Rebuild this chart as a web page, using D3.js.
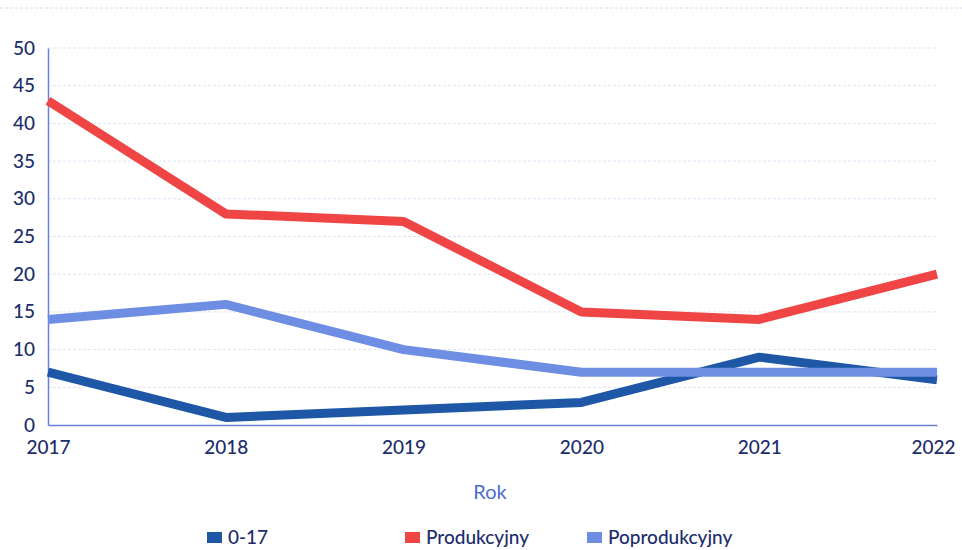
<!DOCTYPE html>
<html><head><meta charset="utf-8">
<script src="https://cdn.jsdelivr.net/npm/d3@7/dist/d3.min.js"></script>
<style>body{margin:0;background:#fff}svg{display:block}</style>
</head><body>
<svg id="c" width="962" height="550"></svg>
<script>
const years = [2017, 2018, 2019, 2020, 2021, 2022];
const seriesNames = ["0-17", "Produkcyjny", "Poprodukcyjny"];
const v017 = [7, 1, 2, 3, 9, 6];
const vProd = [43, 28, 27, 15, 14, 20];
const vPoprod = [14, 16, 10, 7, 7, 7];
const yTicks = [0, 5, 10, 15, 20, 25, 30, 35, 40, 45, 50];
const colors = ["#1d57a5", "#ef4545", "#6d8ee2"];

const svg = d3.select("#c");
const x = d3.scalePoint().domain(years).range([48, 937]);
const y = d3.scaleLinear().domain([0, 50]).range([425, 48]);
const font = "Lato, 'Open Sans', sans-serif";

// top faint dotted line
svg.append("line").attr("x1", 0).attr("x2", 962).attr("y1", 8).attr("y2", 8)
  .attr("stroke", "#d6daf0").attr("stroke-dasharray", "3,2");

// gridlines
svg.append("g").selectAll("line").data(yTicks.filter(d => d > 0)).join("line")
  .attr("x1", 48).attr("x2", 937).attr("y1", d => y(d)).attr("y2", d => y(d))
  .attr("stroke", "#dfe2f5").attr("stroke-dasharray", "3,2");

// y axis
const ya = svg.append("g").attr("transform", "translate(48,0)")
  .call(d3.axisLeft(y).tickValues(yTicks).tickSize(0).tickPadding(13));
ya.select(".domain").attr("stroke", "#6a80dc").attr("stroke-width", 1.5);
ya.selectAll("text").attr("font-family", font).attr("font-size", 19).attr("font-weight", 500).attr("fill", "#1c2d6b");

// x axis
const xa = svg.append("g").attr("transform", "translate(0,425)")
  .call(d3.axisBottom(x).tickSize(0).tickPadding(16).tickFormat(d3.format("d")));
xa.select(".domain").attr("stroke", "#6a80dc").attr("stroke-width", 1.5);
xa.selectAll("text").attr("font-family", font).attr("font-size", 19).attr("font-weight", 500).attr("fill", "#1c2d6b");
xa.selectAll(".tick:last-of-type text").attr("dx", -4);

// axis title
svg.append("text").attr("x", 490).attr("y", 499).attr("text-anchor", "middle")
  .attr("font-family", font).attr("font-size", 20).attr("fill", "#4a6dd2").text("Rok");

// lines
const data = [v017, vProd, vPoprod];
const line = d3.line().x((d, i) => x(years[i])).y(d => y(d));
svg.append("g").selectAll("path").data(data).join("path")
  .attr("d", line).attr("fill", "none")
  .attr("stroke", (d, i) => colors[i]).attr("stroke-width", 9)
  .attr("stroke-linejoin", "round");

// legend
const legX = [207, 405, 587];
const lg = svg.append("g").selectAll("g").data(seriesNames).join("g")
  .attr("transform", (d, i) => `translate(${legX[i]},538)`);
lg.append("rect").attr("x", 0).attr("y", -6).attr("width", 15).attr("height", 11)
  .attr("fill", (d, i) => colors[i]);
lg.append("text").attr("x", 21).attr("y", 6).attr("font-family", font).attr("font-size", 19)
  .attr("font-weight", 500).attr("fill", "#1c2d6b").text(d => d);
</script>
</body></html>
